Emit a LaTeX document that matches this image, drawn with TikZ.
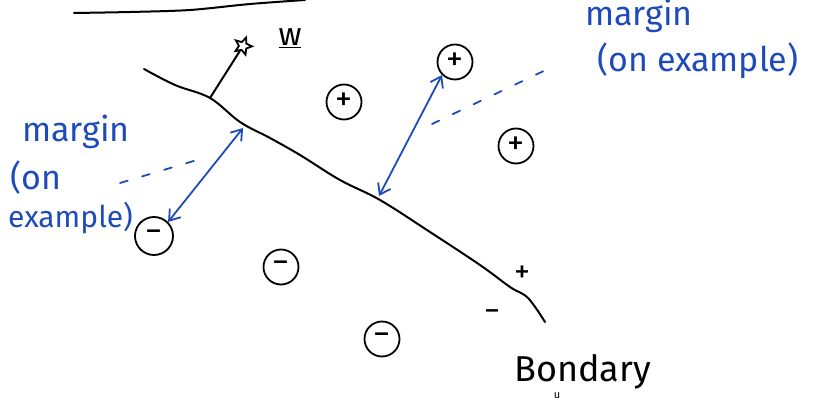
\documentclass[tikz,border=0pt]{standalone}
\usepackage{fontspec}
\setmainfont{Fira Sans}
\usetikzlibrary{arrows.meta,shapes.geometric}
\definecolor{pen}{RGB}{30,75,185}
\begin{document}
\begin{tikzpicture}[x=1pt,y=-1pt,
  ink/.style={line width=2pt,line cap=round,line join=round},
  bluepen/.style={draw=pen,line width=1.8pt,line cap=round},
  sample/.style={draw,circle,line width=1.8pt,minimum size=35pt,inner sep=0pt,font=\fontsize{34}{34}\selectfont},
  note/.style={text=pen,font=\fontsize{34}{36}\selectfont,inner sep=0pt,anchor=base west},
  sign/.style={font=\fontsize{32}{32}\selectfont,inner sep=0pt},
  margarrow/.style={bluepen,{Straight Barb[length=10pt,width=14pt]}-{Straight Barb[length=10pt,width=14pt]}},
  gap/.style={bluepen,dash pattern=on 8pt off 15pt},
]
\useasboundingbox (0,0) rectangle (813,403);
% stray line at top
\draw[ink] plot[smooth] coordinates {(74,13) (130,12) (190,10) (250,4) (305,0)};
% boundary
\draw[ink] plot[smooth,tension=0.6] coordinates {(144,69) (175,85) (210,98) (240,122) (270,138) (300,155) (340,180) (380,200) (430,232) (480,265) (510,287) (528,298) (545,322)};
% weight vector
\coordinate (wbase) at (210,98);
\node[draw,star,star points=5,star point ratio=2.2,line width=1.8pt,minimum size=18pt,inner sep=0pt,rotate=-20] (wtip) at (243,46) {};
\draw[ink] (wbase) -- (wtip);
\node[sign] (w) at (290,38) {\underline{w}};
% samples
\node[sample] (p1) at (455,62) {+};
\node[sample] (p2) at (344,102) {+};
\node[sample] (p3) at (516,146) {+};
\node[sample,minimum size=38pt] (n1) at (154,236) {−};
\node[sample] (n2) at (281,267) {−};
\node[sample] (n3) at (382,339) {−};
% side marks
\node[sign] (plus) at (522,274) {+};
\node[sign] (minus) at (492,316) {−};
% margin arrows
\coordinate (b1) at (243,128);
\coordinate (b2) at (379,196);
\draw[margarrow] (n1.north east) -- (b1);
\draw[margarrow] (b2) -- (p1.south west);
% dashed leaders
\coordinate (l1) at (120,183);
\coordinate (l2) at (197,160);
\draw[gap] (l1) -- (l2);
\coordinate (r1) at (432,124);
\coordinate (r2) at (550,68);
\draw[gap] (r1) -- (r2);
% notes
\node[note] (lm) at (22,142) {margin};
\node[note] (lo) at (10,190) {(on};
\node[note,font=\fontsize{30}{30}\selectfont] (le) at (8,228) {example)};
\node[note] (rm) at (585,26) {margin};
\node[note] (ro) at (597,72) {(on example)};
% boundary label
\node[anchor=base west,inner sep=0pt,font=\fontsize{36}{36}\selectfont] (bd) at (514,381) {Bo\makebox[0pt]{\raisebox{-17pt}{\fontsize{11}{11}\selectfont u}}ndary};
\end{tikzpicture}
\end{document}
